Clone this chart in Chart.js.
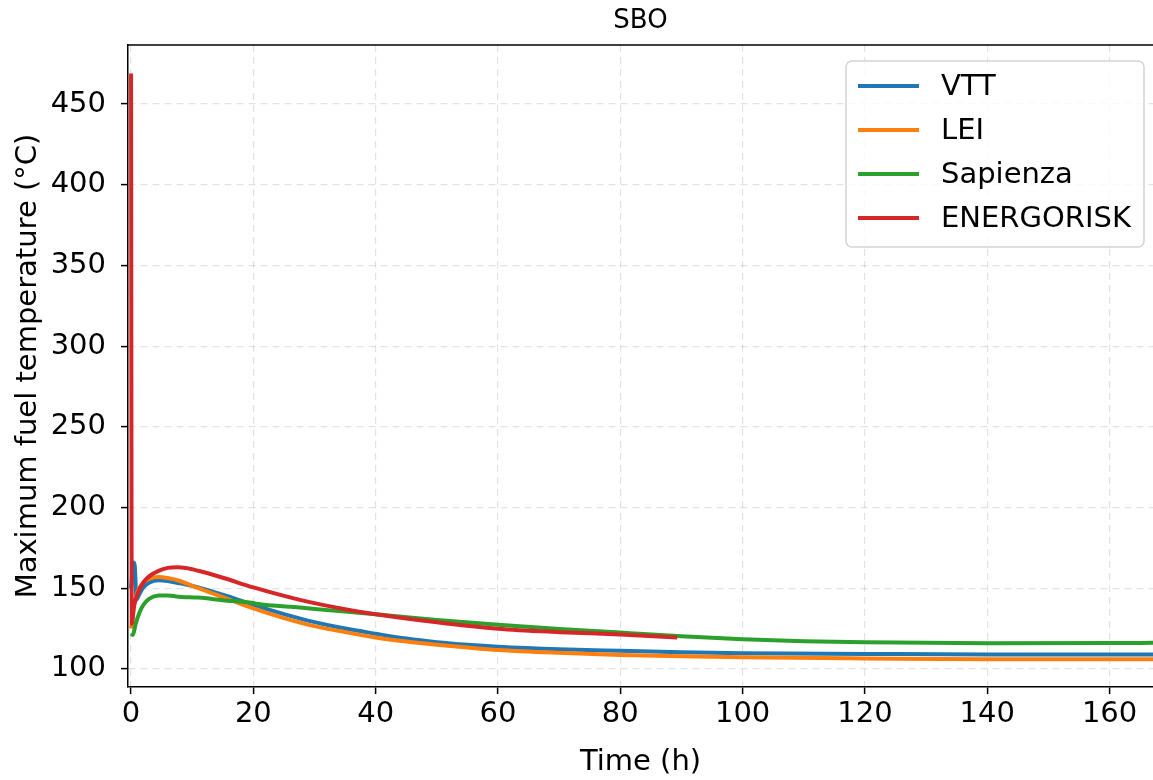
<!DOCTYPE html>
<html>
<head>
<meta charset="utf-8">
<script src="https://cdn.jsdelivr.net/npm/chart.js@4.4.1/dist/chart.umd.min.js"></script>
<style>
  html, body { margin: 0; padding: 0; background: #fff; }
  canvas { display: block; }
</style>
</head>
<body>
<canvas id="chart" width="1153" height="780"></canvas>
<script>
// values (time in h, temperature in °C)
const vttTime = [0, 0.4, 0.6, 0.9, 1.3, 2, 3, 4.5, 6, 8, 11, 15, 20, 25, 30, 35, 40, 45, 50, 55, 60, 70, 80, 90, 100, 120, 140, 167.1]
const vttTemp = [150, 166, 164, 143, 146, 150.5, 153.5, 155, 154.5, 153, 150.5, 146, 139.7, 134, 129, 125, 121.8, 118.8, 116.6, 115, 113.8, 112.2, 111.2, 110.3, 109.7, 109.3, 109, 109]

const leiTime = [0, 0.5, 1, 1.5, 2, 3, 4.5, 6, 8, 11, 15, 20, 25, 30, 35, 40, 45, 50, 55, 60, 70, 80, 90, 100, 120, 140, 167.1]
const leiTemp = [125, 140, 147, 151, 153.5, 156, 157, 156.3, 154.5, 150, 144.5, 137.5, 131.5, 126.5, 122.8, 119.5, 117, 115, 113.3, 111.8, 110, 108.7, 107.8, 107.2, 106.5, 106, 106]

const sapTime = [0, 0.3, 0.7, 1, 1.5, 2, 3, 4.5, 6, 7, 7.3, 11, 15, 20, 20.5, 27.6, 35, 40, 50, 60, 70, 80, 90, 100, 110, 120, 140, 160, 167.1]
const sapTemp = [122, 121, 127, 131, 136, 139.5, 143.5, 145.5, 145.5, 145.2, 144.9, 144.2, 142.6, 140.8, 140.4, 138, 135.5, 133.9, 130.3, 127.3, 124.8, 122.5, 120.3, 118.4, 117.2, 116.5, 115.9, 116, 116.2]

const enrTime = [0, 0.12, 0.5, 1, 2, 3, 4.5, 6, 7.5, 9, 11, 15, 20, 27.6, 35, 40, 50, 60, 70, 80, 89.3]
const enrTemp = [469, 128, 139, 146, 153.5, 157.5, 160.8, 162.6, 163, 162.5, 160.8, 156.5, 150.5, 142.8, 137, 133.9, 128.9, 124.9, 122.8, 121.3, 119.4]

const seriesNames = ['VTT', 'LEI', 'Sapienza', 'ENERGORISK']
const seriesColors = ['#1f77b4', '#ff7f0e', '#2ca02c', '#d62728']
const seriesTimes = [vttTime, leiTime, sapTime, enrTime]
const seriesTemps = [vttTemp, leiTemp, sapTemp, enrTemp]

const xTicks = [0, 20, 40, 60, 80, 100, 120, 140, 160]
const yTicks = [100, 150, 200, 250, 300, 350, 400, 450]

const FONT = 'DejaVu Sans'
const FS = 29
Chart.defaults.font.family = FONT
Chart.defaults.font.size = FS
Chart.defaults.color = '#000'

const datasets = seriesNames.map((name, i) => ({
  label: name,
  data: seriesTimes[i].map((t, j) => ({ x: t, y: seriesTemps[i][j] })),
  borderColor: seriesColors[i],
  backgroundColor: seriesColors[i],
  borderWidth: 4,
  pointRadius: 0,
  cubicInterpolationMode: 'monotone',
  fill: false,
  // matplotlib draws later series on top
  order: seriesNames.length - i,
}))

// title, top spine and in-axes legend, drawn like matplotlib does
const frame = {
  id: 'frame',
  afterDraw(chart) {
    const { ctx, chartArea: a } = chart
    ctx.save()
    ctx.strokeStyle = '#000'
    ctx.lineWidth = 1.5
    ctx.beginPath()
    ctx.moveTo(a.left - 0.75, a.top)
    ctx.lineTo(a.right, a.top)
    ctx.stroke()

    ctx.fillStyle = '#000'
    ctx.font = '26px "' + FONT + '"'
    ctx.textAlign = 'center'
    ctx.textBaseline = 'middle'
    ctx.fillText('SBO', (a.left + a.right) / 2, 21)

    // legend box
    const bx = 846, by = 61, bw = 298, bh = 186, r = 6
    ctx.beginPath()
    ctx.roundRect(bx, by, bw, bh, r)
    ctx.fillStyle = 'rgba(255,255,255,0.8)'
    ctx.fill()
    ctx.strokeStyle = '#d4d4d4'
    ctx.lineWidth = 1.5
    ctx.stroke()
    ctx.font = FS + 'px "' + FONT + '"'
    chart.data.datasets.forEach((ds, i) => {
      const y = 86 + i * 44
      ctx.strokeStyle = ds.borderColor
      ctx.lineWidth = 4
      ctx.beginPath()
      ctx.moveTo(858, y)
      ctx.lineTo(919, y)
      ctx.stroke()
      ctx.fillStyle = '#000'
      ctx.textAlign = 'left'
      ctx.fillText(ds.label, 941, y + 1)
    })
    ctx.restore()
  },
}

const gridOpts = {
  color: 'rgba(0,0,0,0.11)',
  lineWidth: 1.2,
  drawTicks: true,
  tickLength: 7,
  tickColor: '#000',
  tickWidth: 1.5,
  tickBorderDash: [],
}

new Chart(document.getElementById('chart'), {
  type: 'line',
  data: { datasets },
  plugins: [frame],
  options: {
    responsive: false,
    animation: false,
    layout: { padding: { top: 45, left: 0, right: 0, bottom: 0 } },
    plugins: {
      legend: { display: false },
      tooltip: { enabled: false },
      title: { display: false },
    },
    scales: {
      x: {
        type: 'linear',
        min: -0.5,
        max: 167.1,
        afterBuildTicks: (s) => { s.ticks = xTicks.map(v => ({ value: v })) },
        afterFit: (s) => { s.height = 93 },
        ticks: { padding: 3, maxRotation: 0, autoSkip: false },
        grid: gridOpts,
        border: { display: true, color: '#000', width: 1.5, dash: [7, 5] },
        title: { display: true, text: 'Time (h)', padding: { top: 0, bottom: 0 } },
      },
      y: {
        type: 'linear',
        min: 88.8,
        max: 486.6,
        afterBuildTicks: (s) => { s.ticks = yTicks.map(v => ({ value: v })) },
        afterFit: (s) => { s.width = 128 },
        ticks: { padding: 15 },
        grid: gridOpts,
        border: { display: true, color: '#000', width: 1.5, dash: [7, 5] },
        title: { display: true, text: 'Maximum fuel temperature (°C)', padding: { top: 11, bottom: 0 } },
      },
    },
  },
})
</script>
</body>
</html>
